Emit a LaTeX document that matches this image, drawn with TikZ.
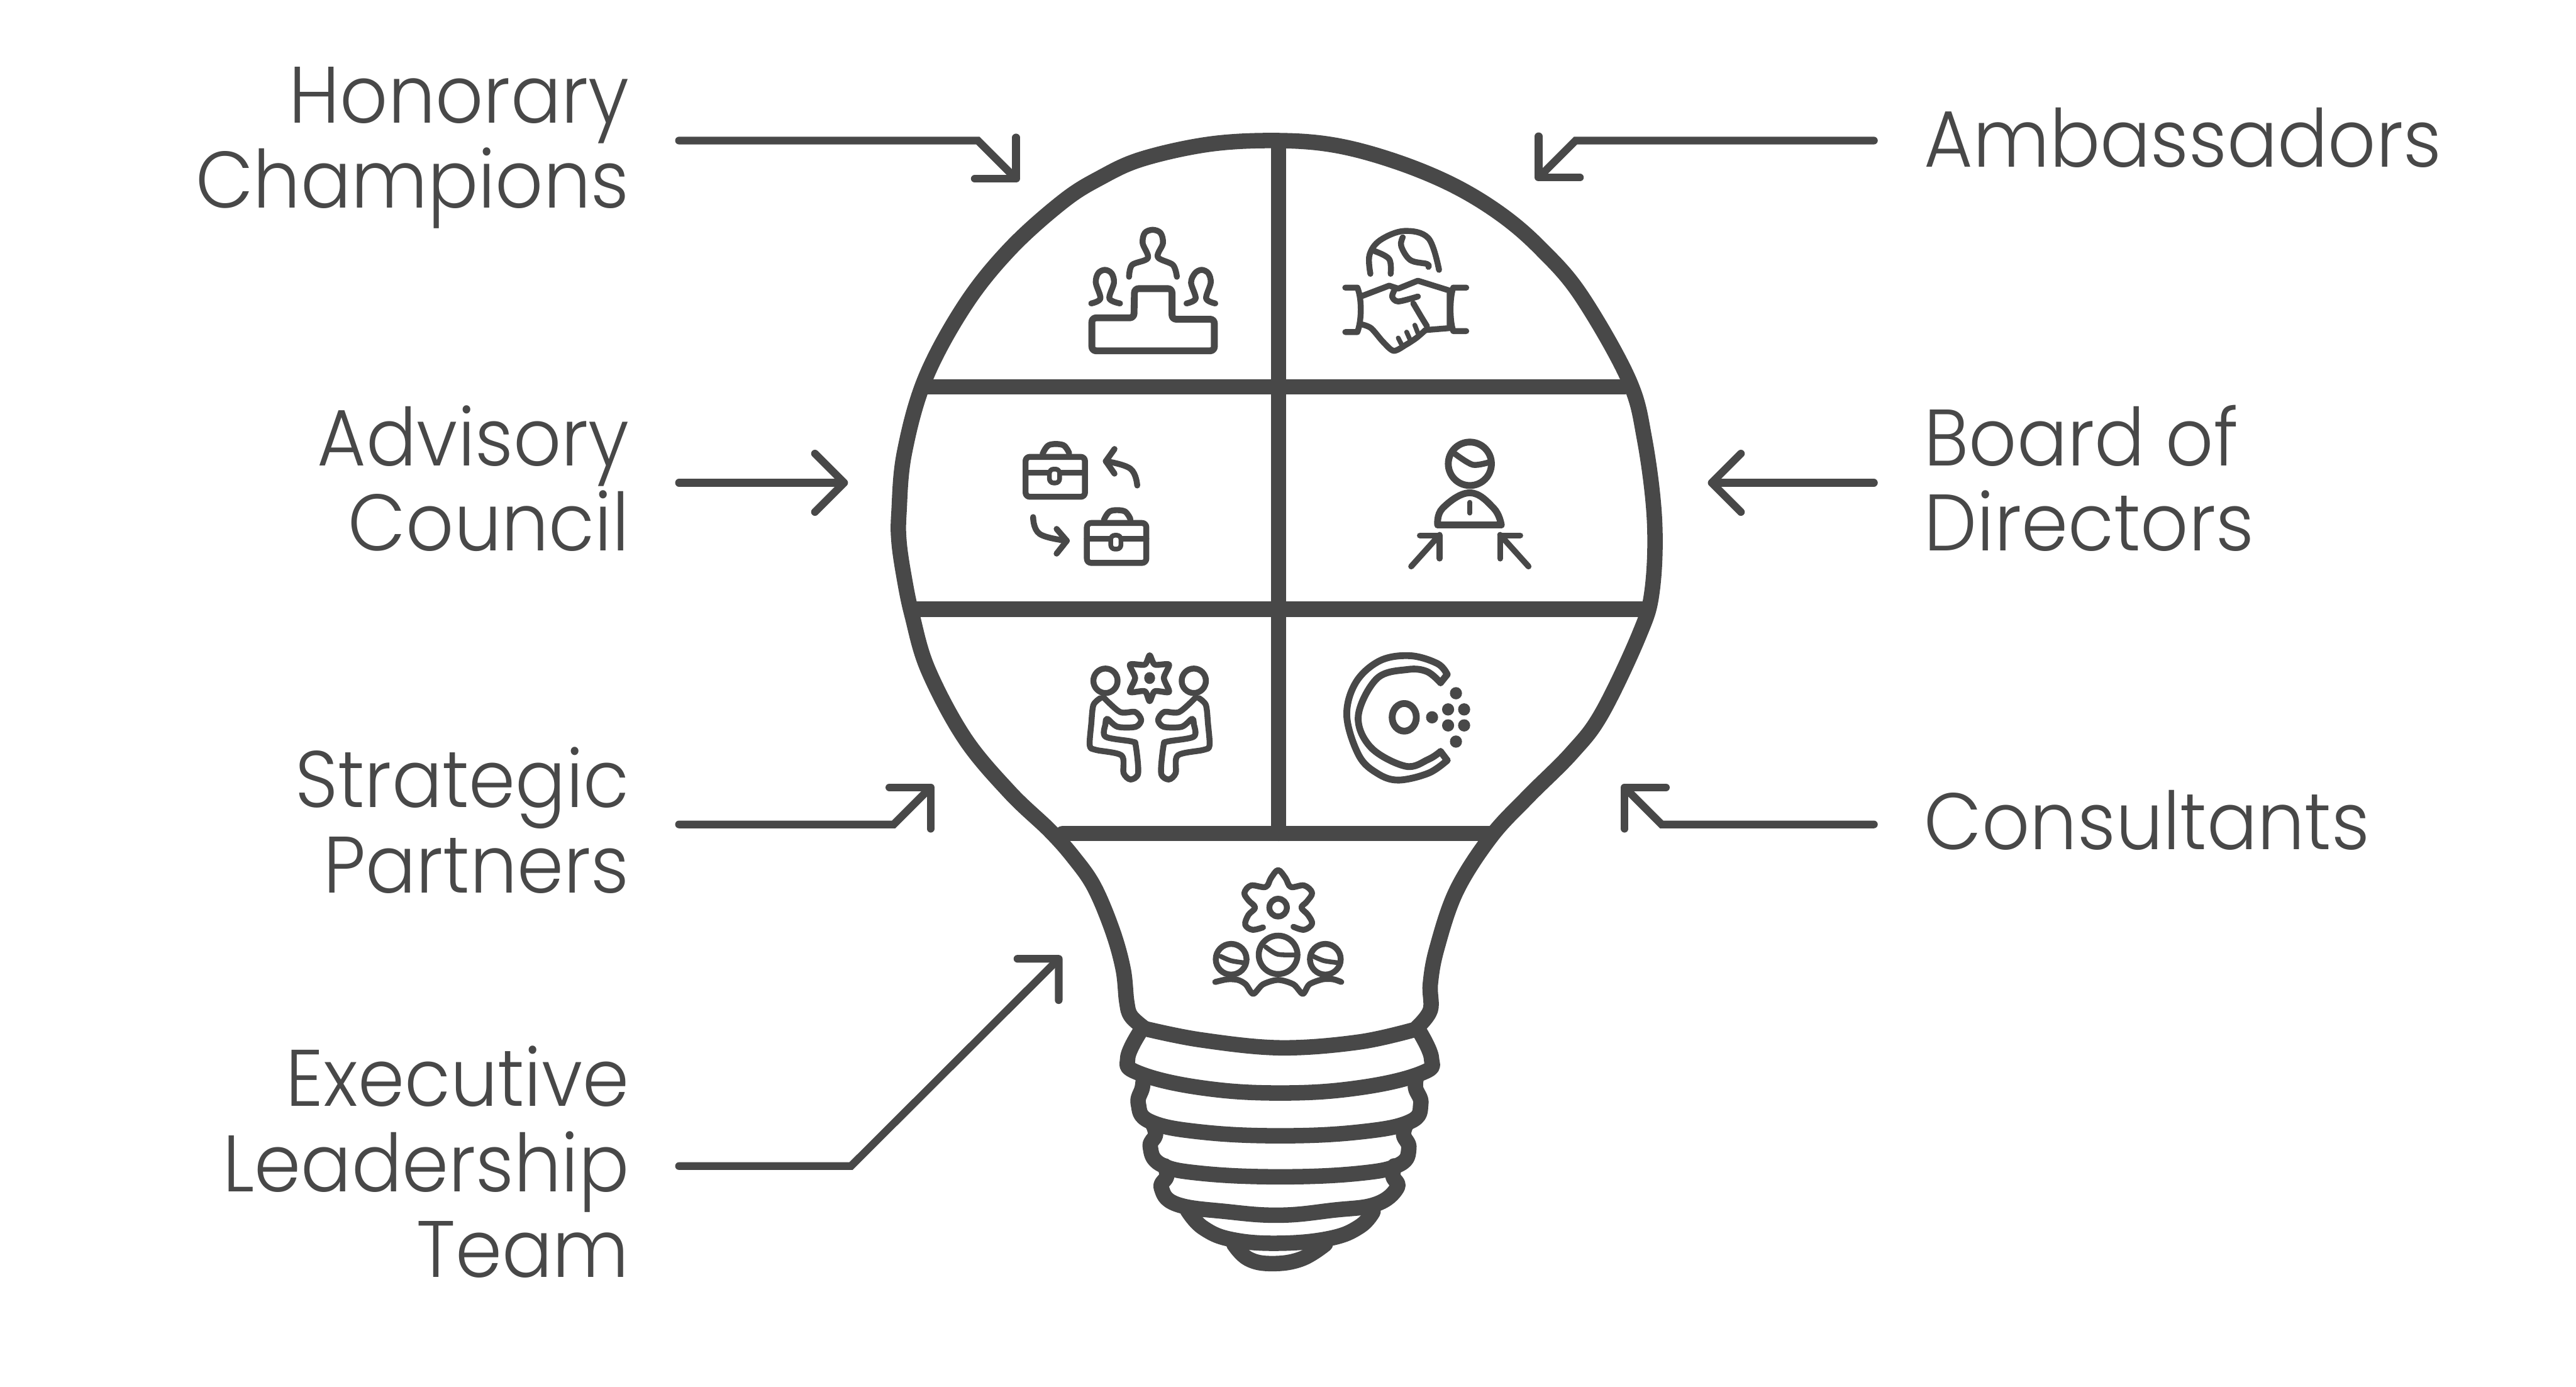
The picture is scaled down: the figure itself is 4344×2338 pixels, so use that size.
\documentclass[tikz,border=0pt]{standalone}
\usepackage{fontspec}
\usetikzlibrary{arrows.meta}
\setmainfont{Poppins Light}[FakeStretch=0.935]
\definecolor{ink}{HTML}{484848}
\tikzset{
  lab/.style={text=ink,font=\fontsize{38.4pt}{41pt}\selectfont,inner sep=0pt,outer sep=0pt},
  labl/.style={lab,align=right,anchor=base east},
  labr/.style={lab,align=left,anchor=base west},
  bulb/.style={draw=ink,line width=0.26cm,line join=round,line cap=round},
  icon/.style={draw=ink,line width=0.115cm,line join=round,line cap=round},
  iconb/.style={icon,line width=0.1cm},
  iconc/.style={icon,line width=0.08cm},
  conn/.style={draw=ink,line width=0.13cm,line join=miter,line cap=round,-{Straight Barb[length=14pt,width=28pt,round]}},
  zA/.style={xshift=17.5cm,yshift=-3.3cm,x=0.005102cm,y=-0.003333cm},
  zB/.style={xshift=16.5cm,yshift=-7cm,x=0.006378cm,y=-0.003333cm},
  zC/.style={xshift=17.5cm,yshift=-10.6cm,x=0.005102cm,y=-0.003333cm},
  zD/.style={xshift=18cm,yshift=-14cm,x=0.004464cm,y=-0.004975cm},
}
\begin{document}
\begin{tikzpicture}[x=0.01cm,y=-0.01cm]
\useasboundingbox (0,0) rectangle (4344,2338);
% labels
\node[labl] (honorary) at (1061,351) {Honorary\\Champions};
\node[labl] (advisory) at (1061,929) {Advisory\\Council};
\node[labl] (strategic) at (1061,1505) {Strategic\\Partners};
\node[labl] (executive) at (1061,2153) {Executive\\Leadership\\Team};
\node[labr] (ambassadors) at (3245,282) {Ambassadors};
\node[labr] (board) at (3245,929) {Board of\\Directors};
\node[labr] (consultants) at (3245,1432) {Consultants};
% connector ends
\coordinate (h0) at (1145,237); \coordinate (h1) at (1649,237); \coordinate (h2) at (1718,306);
\coordinate (am0) at (3160,237); \coordinate (am1) at (2657,237); \coordinate (am2) at (2590,304);
\coordinate (ad0) at (1145,814); \coordinate (ad2) at (1430,814);
\coordinate (bo0) at (3160,814); \coordinate (bo2) at (2880,814);
\coordinate (st0) at (1145,1390); \coordinate (st1) at (1507,1390); \coordinate (st2) at (1574,1323);
\coordinate (co0) at (3160,1390); \coordinate (co1) at (2802,1390); \coordinate (co2) at (2735,1323);
\coordinate (ex0) at (1145,1966); \coordinate (ex1) at (1435,1966); \coordinate (ex2) at (1790,1612);
\draw[conn] (h0) -- (h1) -- (h2);
\draw[conn] (am0) -- (am1) -- (am2);
\draw[conn] (ad0) -- (ad2);
\draw[conn] (bo0) -- (bo2);
\draw[conn] (st0) -- (st1) -- (st2);
\draw[conn] (co0) -- (co1) -- (co2);
\draw[conn] (ex0) -- (ex1) -- (ex2);
% bulb glass
\draw[bulb] plot[smooth,tension=0.6] coordinates {(1929,1733)(1907,1713)(1900,1689)(1894,1634)(1876,1569)(1845,1495)(1810,1445)(1770,1400)(1703,1336)(1627,1245)(1565,1129)(1538,1037)(1525,975)(1516,913)(1516,863)(1525,764)(1560,639)(1627,515)(1703,420)(1792,340)(1855,300)(1926,268)(2040,243)(2154,237)(2252,245)(2353,272)(2450,312)(2532,362)(2599,420)(2666,498)(2746,639)(2773,739)(2790,876)(2786,996)(2764,1071)(2701,1203)(2650,1270)(2576,1344)(2514,1411)(2456,1502)(2423,1599)(2412,1659)(2412,1703)(2389,1733)};
\draw[bulb] (1565,652) -- (2740,652);
\draw[bulb] (1538,1027) -- (2773,1027);
\draw[bulb] (1792,1405) -- (2514,1405);
\draw[bulb] (2156,237) -- (2156,1405);
% screw base
\begin{scope}[zD]
\draw[bulb] plot[smooth,tension=0.6] coordinates {(290,670)(500,708)(800,735)(1100,715)(1320,670)};
\draw[bulb] plot[smooth,tension=0.7] coordinates {(272,680)(225,770)(265,820)(500,870)(800,888)(1100,870)(1335,820)(1370,770)(1325,680)};
\draw[bulb] plot[smooth,tension=0.7] coordinates {(285,830)(280,870)(265,925)(310,985)(500,1020)(800,1033)(1100,1020)(1290,985)(1330,925)(1310,870)(1315,830)};
\draw[bulb] plot[smooth,tension=0.7] coordinates {(320,995)(330,1030)(310,1070)(350,1130)(500,1160)(800,1172)(1100,1160)(1250,1130)(1285,1075)(1265,1030)(1275,995)};
\draw[bulb] plot[smooth,tension=0.7] coordinates {(365,1135)(372,1170)(352,1210)(410,1265)(600,1290)(800,1302)(1000,1285)(1160,1265)(1240,1210)(1225,1170)(1230,1135)};
\draw[bulb] plot[smooth,tension=0.7] coordinates {(450,1285)(510,1345)(620,1385)(800,1397)(990,1380)(1100,1340)(1150,1290)};
\draw[bulb] plot[smooth,tension=0.7] coordinates {(625,1400)(680,1450)(770,1466)(880,1450)(970,1400)};
% executive icon
\draw[iconb] plot[smooth,tension=0.6] coordinates {(735,327)(695,335)(668,318)(680,285)(705,260)(680,235)(665,210)(690,185)(745,190)(765,160)(792,133)(820,160)(840,190)(890,185)(920,210)(900,240)(880,260)(905,285)(920,315)(890,335)(850,325)};
\draw[iconb] (792,260) ellipse [x radius=33,y radius=30];
\draw[iconb] (792,420) ellipse [x radius=73,y radius=65];
\draw[iconb] (615,435) ellipse [x radius=58,y radius=52];
\draw[iconb] (970,435) ellipse [x radius=58,y radius=52];
\draw[iconc] plot[smooth] coordinates {(745,393)(790,418)(860,420)};
\draw[iconc] plot[smooth] coordinates {(575,425)(615,440)(665,447)};
\draw[iconc] plot[smooth] coordinates {(925,425)(965,440)(1020,447)};
\draw[iconb] plot[smooth,tension=0.5] coordinates {(555,512)(600,503)(640,505)(670,520)(698,552)(735,520)(792,505)(850,520)(885,552)(910,520)(960,503)(1000,503)(1030,512)};
\end{scope}
% honorary icon
\begin{scope}[zA]
\draw[icon,rounded corners=2pt] (177,785) -- (177,618) -- (316,618) -- (318,470) -- (442,470) -- (442,625) -- (582,625) -- (582,785) -- cycle;
\draw[iconb] plot[smooth,tension=0.55] coordinates {(300,410)(310,350)(362,315)(345,240)(352,188)(378,172)(404,188)(412,240)(395,310)(445,350)(458,410)};
\draw[iconb] plot[smooth,tension=0.55] coordinates {(175,545)(205,520)(190,440)(198,392)(220,375)(242,392)(250,440)(235,520)(270,545)};
\draw[iconb] plot[smooth,tension=0.55] coordinates {(490,545)(520,520)(505,440)(518,392)(540,375)(562,392)(570,440)(555,520)(585,545)};
% ambassadors icon
\draw[iconb] plot[smooth,tension=0.6] coordinates {(1098,395)(1095,300)(1130,225)(1210,178)(1290,215)(1325,375)};
\draw[iconb] plot[smooth,tension=0.6] coordinates {(1112,280)(1160,320)(1165,395)};
\draw[iconb] plot[smooth,tension=0.6] coordinates {(1205,210)(1200,255)(1230,325)(1285,345)(1290,360)};
\draw[iconb] (1015,465) -- (1055,465) .. controls (1070,520) and (1070,630) .. (1055,690) -- (1015,690);
\draw[iconb] (1415,465) -- (1372,465) .. controls (1360,520) and (1360,630) .. (1372,685) -- (1415,685);
\draw[iconb] (1066,510) -- (1160,455) -- (1190,470) -- (1255,430) -- (1360,480) -- (1360,670) -- (1280,680);
\draw[iconb] plot[smooth,tension=0.5] coordinates {(1066,650)(1100,670)(1140,740)(1175,785)(1215,755)(1250,720)(1280,680)};
\draw[iconb] plot[smooth,tension=0.5] coordinates {(1255,510)(1190,535)(1170,510)(1180,470)};
\draw[iconb] plot[smooth,tension=0.5] coordinates {(1240,545)(1265,610)(1285,660)};
\draw[iconc] (1190,720) -- (1200,750) (1218,690) -- (1228,725) (1245,655) -- (1255,695);
\end{scope}
% advisory icon
\begin{scope}[zB]
\foreach \dx/\dy in {0/0,162/335}{
\begin{scope}[xshift=\dx*0.006378cm,yshift=-\dy*0.003333cm]
\draw[iconb,rounded corners=2pt] (123,210) -- (280,210) -- (280,412) -- (123,412) -- cycle;
\draw[iconb] plot[smooth,tension=0.6] coordinates {(168,195)(185,150)(222,150)(238,190)};
\draw[iconb] (123,290) -- (280,290);
\draw[iconc,rounded corners=2pt,fill=white] (186,272) rectangle (213,342);
\end{scope}}
\draw[iconb] plot[smooth,tension=0.7] coordinates {(418,355)(400,270)(335,232)};
\draw[iconb] (358,170) -- (335,232) -- (358,295);
\draw[iconb] plot[smooth,tension=0.7] coordinates {(143,515)(160,600)(232,635)};
\draw[iconb] (205,575) -- (232,635) -- (205,700);
% board icon
\draw[icon] (1297,245) ellipse [x radius=57,y radius=110];
\draw[iconb] plot[smooth] coordinates {(1258,195)(1305,250)(1352,235)};
\draw[icon] plot[smooth,tension=0.7] coordinates {(1212,555)(1225,470)(1297,392)(1360,470)(1380,555)};
\draw[icon] (1212,555) -- (1380,555);
\draw[iconc] (1297,440) -- (1297,495);
\draw[iconb] (1142,765) -- (1217,605);
\draw[iconb] (1165,608) -- (1217,608) -- (1217,725);
\draw[iconb] (1452,765) -- (1377,605);
\draw[iconb] (1430,608) -- (1377,608) -- (1377,725);
\end{scope}
% strategic icon
\begin{scope}[zC]
\foreach \m in {1,-1}{
\begin{scope}[xshift=368*0.005102cm,xscale=\m,xshift=-368*0.005102cm]
\draw[iconb] (222,262) ellipse [x radius=40,y radius=62];
\draw[iconb] plot[smooth,tension=0.5] coordinates {(205,350)(182,385)(175,480)(170,590)(190,612)(275,640)(282,730)(305,762)(330,730)(322,590)(310,570)(222,545)(222,480)(228,455)(262,495)(322,495)(340,460)(320,420)(270,420)(215,345)};
\end{scope}}
\draw[iconb] plot[smooth cycle,tension=0.45] coordinates {(368,133)(385,180)(432,180)(415,248)(432,318)(385,315)(368,365)(352,315)(303,318)(320,248)(303,180)(352,180)};
\fill[ink] (368,248) ellipse [x radius=18,y radius=30];
% consultants icon
\draw[icon] plot[smooth,tension=0.6] coordinates {(1352,230)(1320,175)(1230,135)(1130,160)(1050,270)(1020,440)(1060,640)(1120,730)(1190,765)(1290,730)(1352,665)};
\draw[icon] plot[smooth,tension=0.6] coordinates {(1330,272)(1285,215)(1220,205)(1120,250)(1058,440)(1100,600)(1215,695)(1290,660)(1330,620)};
\draw[icon] (1352,230) -- (1330,272) (1352,665) -- (1330,620);
\draw[icon] (1210,447) ellipse [x radius=40,y radius=70];
\foreach \a/\b in {1302/447,1355/407,1408/407,1355/488,1408/488,1381/325,1381/570}
  \fill[ink] (\a,\b) ellipse [x radius=20,y radius=31];
\end{scope}
\end{tikzpicture}
\end{document}
